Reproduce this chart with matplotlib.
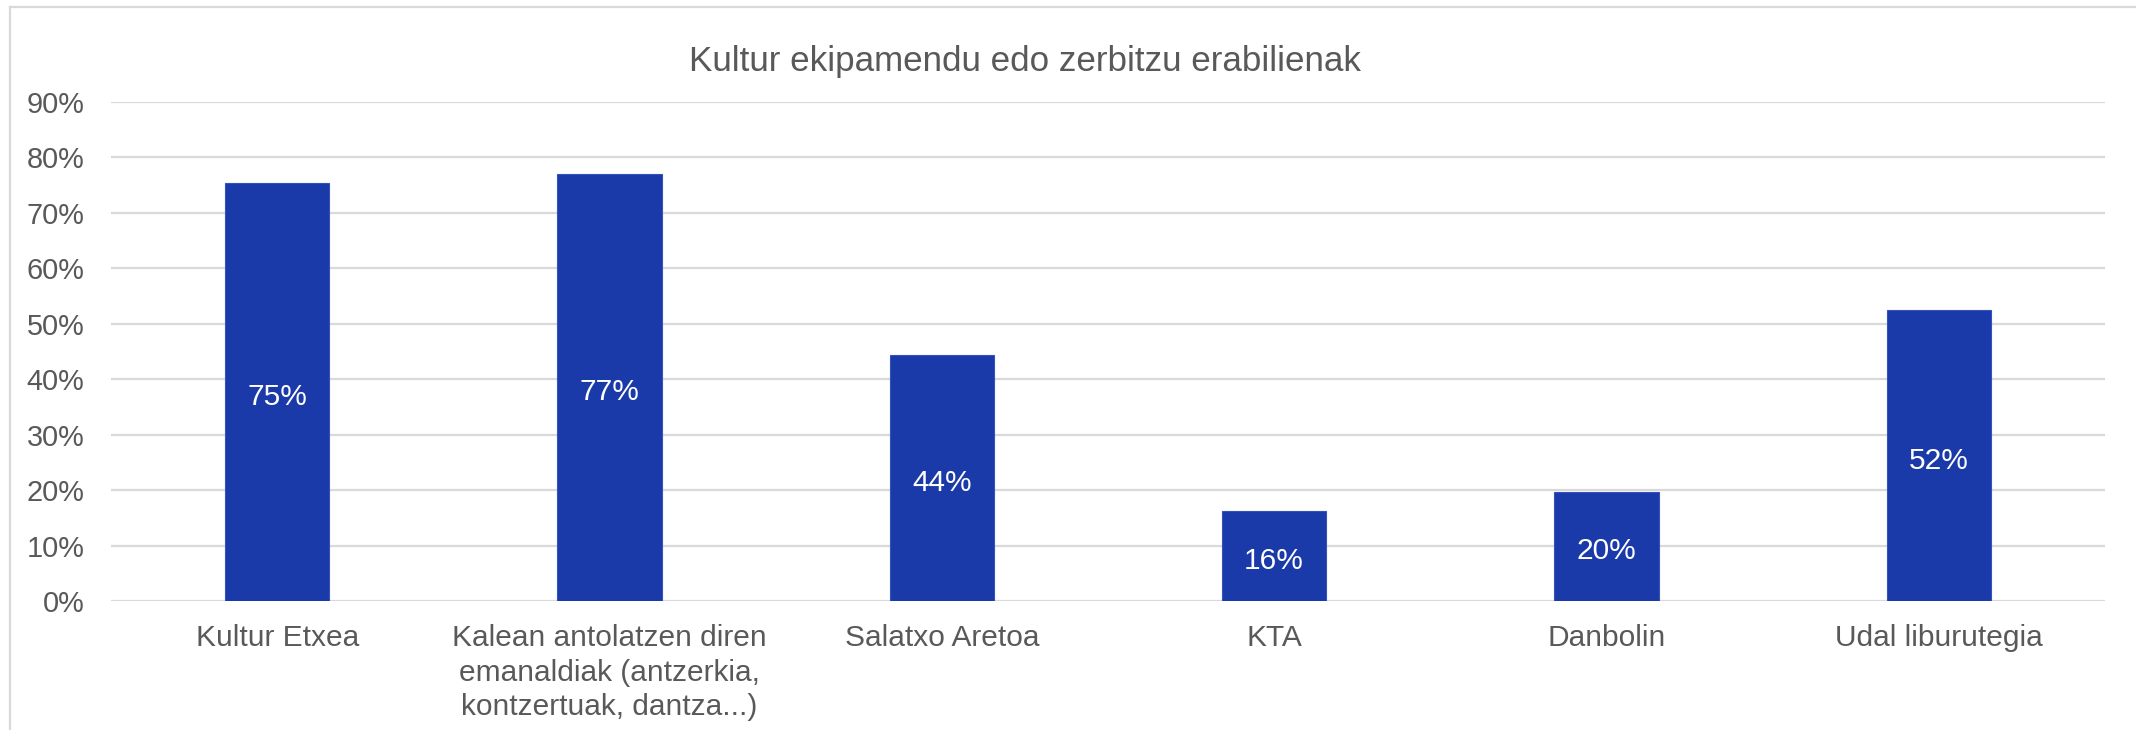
import matplotlib
matplotlib.use("Agg")
import matplotlib.pyplot as plt
from matplotlib.lines import Line2D
import numpy as np

plt.rcParams['font.family'] = ['Liberation Sans', 'DejaVu Sans']

title = "Kultur ekipamendu edo zerbitzu erabilienak"
categories = [
    "Kultur Etxea",
    "Kalean antolatzen diren\nemanaldiak (antzerkia,\nkontzertuak, dantza...)",
    "Salatxo Aretoa",
    "KTA",
    "Danbolin",
    "Udal liburutegia",
]
values = [0.754, 0.770, 0.443, 0.162, 0.197, 0.524]
yticks = [0.0, 0.1, 0.2, 0.3, 0.4, 0.5, 0.6, 0.7, 0.8, 0.9]
ytick_labels = ["0%", "10%", "20%", "30%", "40%", "50%", "60%", "70%", "80%", "90%"]

bar_color = "#1B3AA9"
text_color = "#595959"
grid_color = "#D9D9D9"

W, H = 2136, 730
fig = plt.figure(figsize=(W / 100, H / 100), dpi=100)
ax = fig.add_axes([111 / W, (H - 601) / H, (2105 - 111) / W, (601 - 102) / H])

x = np.arange(len(categories))
bars = ax.bar(x, values, width=0.313, color=bar_color, edgecolor="#3352BE",
              linewidth=0.8, zorder=3)

for b, v in zip(bars, values):
    ax.annotate(f"{v * 100:.0f}%", (b.get_x() + b.get_width() / 2, v / 2),
                xytext=(0, -3.5), textcoords="offset points",
                ha="center", va="center", color="white", fontsize=21.5, zorder=4)

ax.set_xlim(-0.5, len(categories) - 0.5)
ax.set_ylim(0, 0.9)
ax.set_yticks(yticks)
ax.set_yticklabels(ytick_labels)
ax.set_xticks(x)
ax.set_xticklabels(categories, linespacing=1.3)
ax.tick_params(axis="y", length=0, pad=19, labelsize=20.8, labelcolor=text_color)
ax.tick_params(axis="x", length=0, pad=16.5, labelsize=21.5, labelcolor=text_color)
ax.yaxis.grid(True, color=grid_color, linewidth=1.6, zorder=0)
ax.set_axisbelow(True)
for s in ax.spines.values():
    s.set_visible(False)

fig.text(1025 / W, 1 - 61 / H, title, ha="center", va="center",
         fontsize=25.2, color=text_color)

# chart border (left and top visible)
fig.add_artist(Line2D([10 / W, 10 / W], [0, 1 - 7 / H], transform=fig.transFigure,
                      color=grid_color, linewidth=1.6))
fig.add_artist(Line2D([10 / W, 1], [1 - 7 / H, 1 - 7 / H], transform=fig.transFigure,
                      color=grid_color, linewidth=1.6))

fig.savefig("out.png", dpi=100, facecolor="white")
